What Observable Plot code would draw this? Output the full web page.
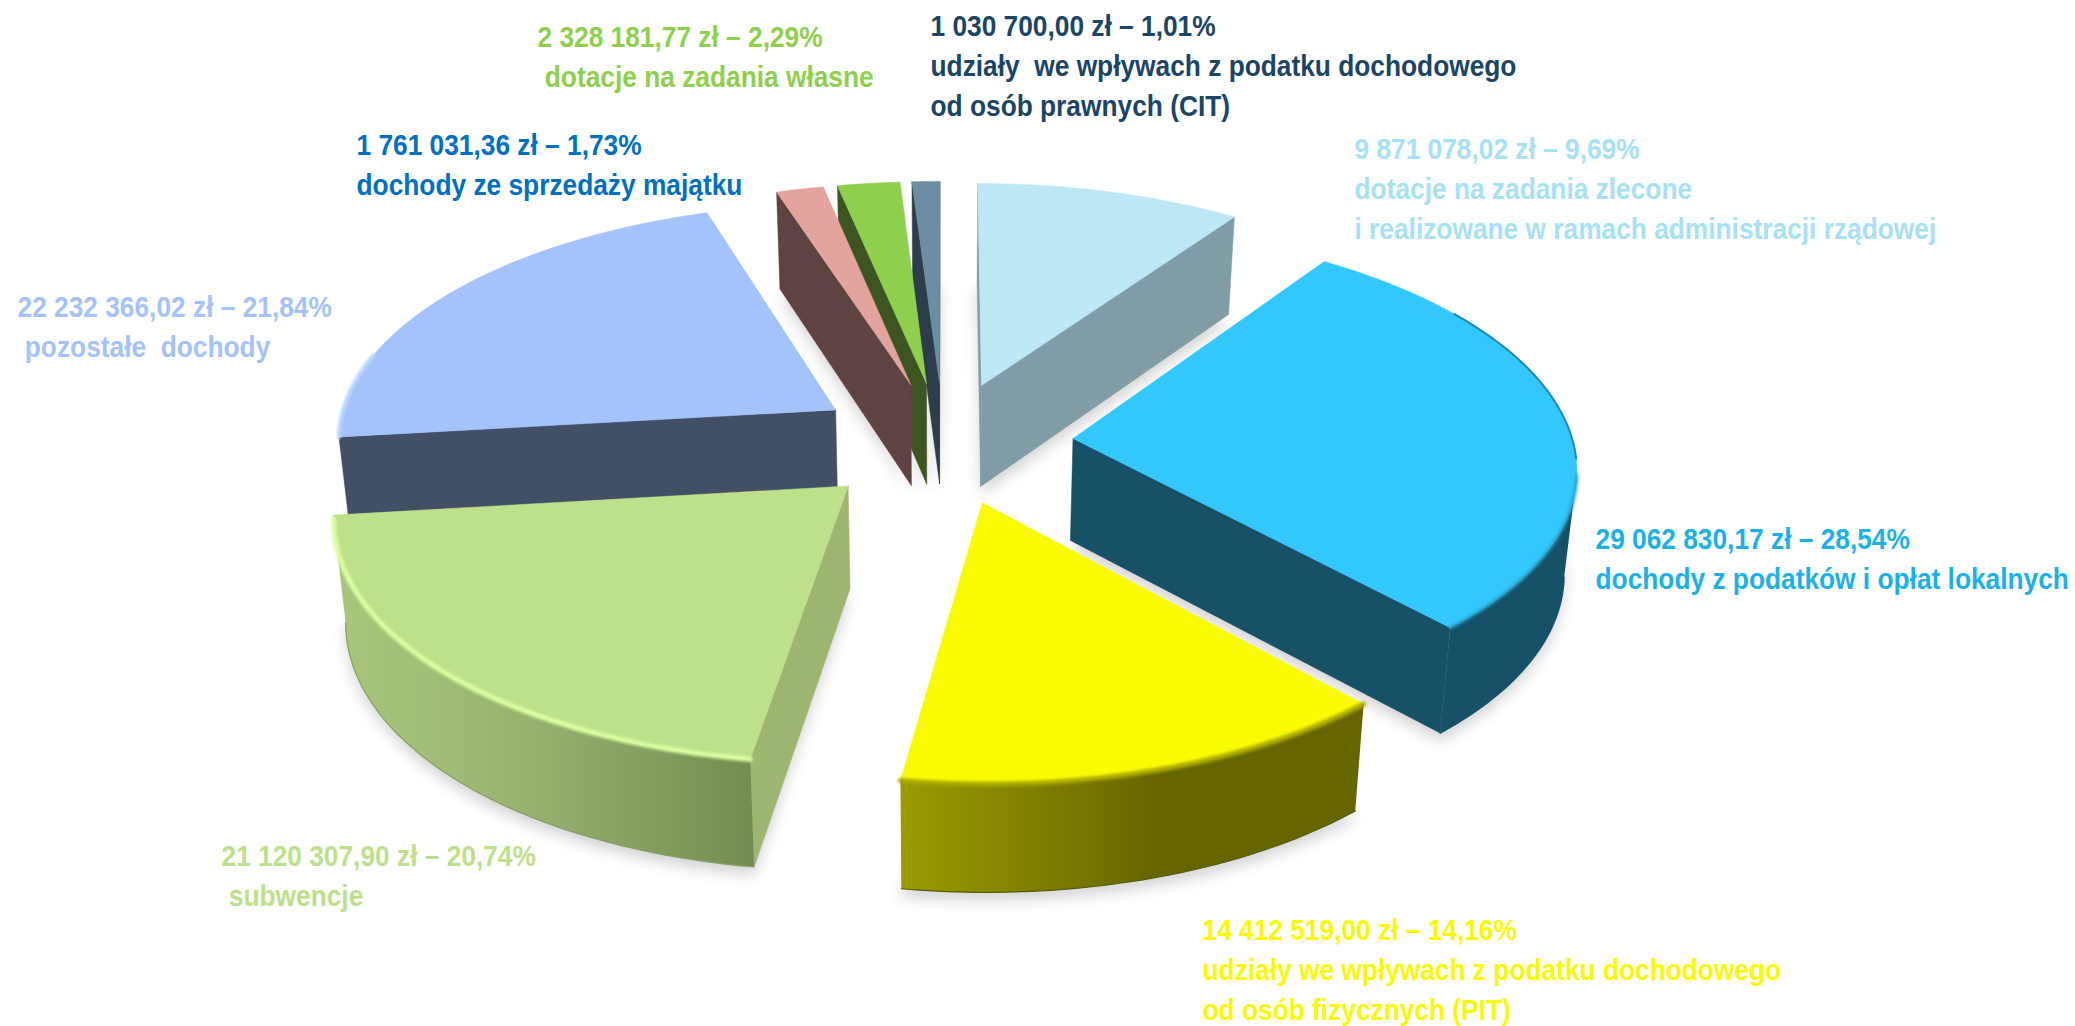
<!DOCTYPE html>
<html><head><meta charset="utf-8">
<script src="https://cdn.jsdelivr.net/npm/d3@7"></script>
<script src="https://cdn.jsdelivr.net/npm/@observablehq/plot@0.6"></script>
<style>html,body{margin:0;padding:0;background:#fff}svg{display:block}</style>
</head><body><div id="c"></div>
<script>
// Data (clockwise from 12 o'clock)
const categories = ["zlecone","lokalne","PIT","subwencje","pozostale","majatek","wlasne","CIT"];
const values = [9871078.02,29062830.17,14412519.00,21120307.90,22232366.02,1761031.36,2328181.77,1030700.00];
const labels = [
 "9 871 078,02 zł – 9,69%\ndotacje na zadania zlecone\ni realizowane w ramach administracji rządowej",
 "29 062 830,17 zł – 28,54%\ndochody z podatków i opłat lokalnych",
 "14 412 519,00 zł – 14,16%\nudziały we wpływach z podatku dochodowego\nod osób fizycznych (PIT)",
 "21 120 307,90 zł – 20,74%\n subwencje",
 "22 232 366,02 zł – 21,84%\n pozostałe  dochody",
 "1 761 031,36 zł – 1,73%\ndochody ze sprzedaży majątku",
 "2 328 181,77 zł – 2,29%\n dotacje na zadania własne",
 "1 030 700,00 zł – 1,01%\nudziały  we wpływach z podatku dochodowego\nod osób prawnych (CIT)"
];
// Styles
const topColors = ["#bce8f6","#32c8fd","#fbfb00","#bde08b","#a4c3fa","#e2a49d","#8ecf4e","#6b8ea3"];
const faceColors = ["#7f9ca7","#165167","#666600","#9cb672","#434f66","#5f4242","#3d5520","#2b3e49"];
const rimFills = ["#7f9ca7","#165167","url(#rimY)","url(#rimG)","#434f66","#5f4242","#3d5520","#2b3e49"];
const bevelColors = [null,"#2a9ec8","#a8a800","#dcffa0",null,null,null,null];
const edgeColors = [null,"#165167","#5a5a00","#86a062",null,null,null,null];
const textColors = ["#a6e1f4","#1ab2e6","#f9f900","#bde08b","#a4c3fa","#0070c0","#8ecf4e","#1a4566"];
const labelX = [1354,1595,1202,221,17,356,537,930];
const labelY = [130,520,911,837,288,126,18,7];
const FONT = "'Liberation Sans',Arial,sans-serif";
const TEXT_SQUEEZE = 0.877;

// View of the tilted pie
const cx=943, cy=442, A=500, B=236, p=0.11, explode=0.26, H=102, squeeze=0.98, viewerV=-1/p;
const proj=(u,v,down)=>{
  const s=1/(1+p*v);
  const x=cx+A*u*s, y=cy-B*v*s;
  return down ? {x:cx+(x-cx)*squeeze, y:y+H*Math.pow(s,0.4)} : {x,y};
};
const total=d3.sum(values);
let acc=0;
const slices=values.map((val,i)=>{
  const a0=acc/total*2*Math.PI; acc+=val; const a1=acc/total*2*Math.PI;
  const m=(a0+a1)/2, ou=explode*Math.sin(m), ov=explode*Math.cos(m);
  const n=Math.max(4,Math.ceil((a1-a0)*60));
  const angles=d3.range(n+1).map(k=>a0+(a1-a0)*k/n);
  const pt=(a,down)=>proj(ou+Math.sin(a),ov+Math.cos(a),down);
  const apex=proj(ou,ov,false), apexD=proj(ou,ov,true);
  const topPoly=[apex,...angles.map(a=>pt(a,false)),apex];
  const botPoly=[apexD,...angles.map(a=>pt(a,true)),apexD];
  const side=(a,sign)=>{
    const nu=sign*Math.cos(a), nv=-sign*Math.sin(a);
    return (0-ou)*nu+(viewerV-ov)*nv>0;
  };
  const wall=a=>[apex,pt(a,false),pt(a,true),apexD,apex];
  const walls=[];
  if(side(a0,-1)) walls.push(wall(a0));
  if(side(a1,1)) walls.push(wall(a1));
  const rimAngles=angles.filter(a=>{
    const X=ou+Math.sin(a),V=ov+Math.cos(a);
    return (0-X)*Math.sin(a)+(viewerV-V)*Math.cos(a)>0;
  });
  const rimTop=rimAngles.map(a=>pt(a,false)), rimBot=rimAngles.map(a=>pt(a,true));
  const rim=rimTop.length>1?[...rimTop,...rimBot.slice().reverse(),rimTop[0]]:null;
  const arc=(from,to)=>angles.filter(a=>a>=from&&a<=to).map(a=>pt(a,false));
  return {i,topPoly,botPoly,walls,rim,rimTop,rimBot,arc};
});
const paintOrder=[0,7,6,5,4,1,3,2];
const XY={x:"x",y:"y"};
const rad=d=>d*Math.PI/180;
const marks=[];
for(const s of slices){
  marks.push(Plot.line(s.botPoly.map(d=>({x:d.x,y:d.y+8})),{...XY,fill:"#000",stroke:"none",fillOpacity:0.17,imageFilter:"blur(7px)"}));
}
for(const idx of paintOrder){
  const s=slices[idx];
  for(const w of s.walls) marks.push(Plot.line(w,{...XY,fill:faceColors[idx],stroke:faceColors[idx],strokeWidth:0.5}));
  if(s.rim){
    marks.push(Plot.line(s.rim,{...XY,fill:rimFills[idx],stroke:"none"}));
    if(edgeColors[idx]) marks.push(Plot.line(s.rimBot,{...XY,stroke:edgeColors[idx],strokeWidth:1.2}));
  }
  marks.push(Plot.line(s.topPoly,{...XY,fill:topColors[idx],stroke:topColors[idx],strokeWidth:0.5}));
  if(bevelColors[idx]&&s.rimTop.length>1) marks.push(Plot.line(s.rimTop,{...XY,stroke:bevelColors[idx],strokeWidth:idx==1?3:5,imageFilter:"blur(1.5px)"}));
  if(idx==1) marks.push(Plot.line(s.arc(rad(55),rad(95)),{...XY,stroke:"#2088b0",strokeWidth:2,imageFilter:"blur(0.6px)"}));
  if(idx==4) marks.push(Plot.line(s.arc(rad(262),rad(285)),{...XY,stroke:"#bcd6ff",strokeWidth:4,imageFilter:"blur(1px)"}));
}
marks.push(Plot.text(labels.map((t,i)=>({t,x:labelX[i],y:labelY[i],c:textColors[i]})),{
  x:"x",y:"y",text:"t",fill:d=>d.c,textAnchor:"start",lineAnchor:"top",fontSize:30,fontWeight:"bold",fontFamily:FONT,lineHeight:1.33
}));
const chart=Plot.plot({width:2075,height:1026,margin:0,
  x:{domain:[0,2075],range:[0,2075],axis:null},
  y:{domain:[0,1026],range:[0,1026],axis:null},
  color:{type:"identity"},
  marks});
chart.insertAdjacentHTML("afterbegin",`<defs>
<linearGradient id="rimY" gradientUnits="userSpaceOnUse" x1="897" x2="1365" y1="0" y2="0"><stop offset="0" stop-color="#9c9c00"/><stop offset="0.55" stop-color="#666600"/><stop offset="1" stop-color="#666600"/></linearGradient>
<linearGradient id="rimG" gradientUnits="userSpaceOnUse" x1="332" x2="752" y1="0" y2="0"><stop offset="0" stop-color="#a9c67c"/><stop offset="0.4" stop-color="#9cb672"/><stop offset="1" stop-color="#748c52"/></linearGradient>
</defs>`);
chart.querySelectorAll("text").forEach(t=>{
  t.setAttribute("transform",(t.getAttribute("transform")||"")+` scale(${TEXT_SQUEEZE},1)`);
});
document.getElementById("c").append(chart);
</script></body></html>
